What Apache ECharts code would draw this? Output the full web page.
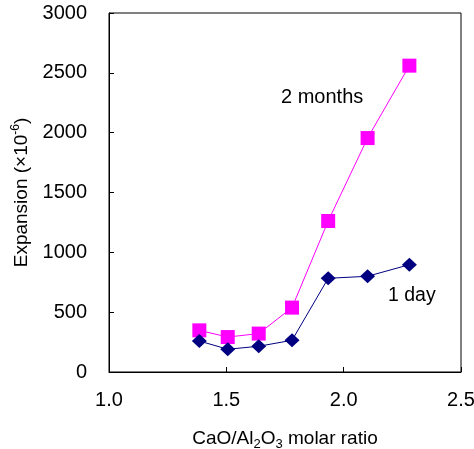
<!DOCTYPE html>
<html>
<head>
<meta charset="utf-8">
<script src="https://cdn.jsdelivr.net/npm/echarts@6/dist/echarts.min.js"></script>
<style>
  html, body { margin: 0; padding: 0; background: #fff; }
  #chart { width: 474px; height: 449px; }
</style>
</head>
<body>
<div id="chart"></div>
<script>
// CaO/Al2O3 摩尔比
var ratio = [1.385, 1.506, 1.638, 1.780, 1.934, 2.102, 2.280];
// 膨胀 (×10^-6)
var twoMonths = [348, 292, 321, 538, 1262, 1955, 2560];
var oneDay = [259, 190, 215, 265, 783, 800, 897];
var xTicks = [1.0, 1.5, 2.0, 2.5];
var yTicks = [0, 500, 1000, 1500, 2000, 2500, 3000];

var font = 'Liberation Sans, Arial, sans-serif';

function pairs(xs, ys) {
    var out = [];
    for (let i = 0; i < xs.length; i++) {
        out.push([xs[i], ys[i]]);
    }
    return out;
}

var myChart = echarts.init(document.getElementById('chart'));
var options = {
    animation: false,
    backgroundColor: '#fff',
    grid: {
        left: 109,
        right: 13,
        top: 13,
        bottom: 77,
        outerBoundsMode: 'none',   // 不让名称挤压绘图区
        containLabel: false,
        show: true,
        borderColor: '#000',
        borderWidth: 1
    },
    xAxis: {
        type: 'value',
        min: xTicks[0],
        max: xTicks[xTicks.length - 1],
        interval: 0.5,
        splitLine: {show: false},
        axisLine: {lineStyle: {color: '#000', width: 1}},
        axisTick: {inside: true, length: 5, lineStyle: {color: '#000'}},
        axisLabel: {
            margin: 18,
            color: '#000',
            fontSize: 20,
            fontFamily: font,
            formatter: function (v) { return v.toFixed(1); }
        },
        name: '{n|CaO/Al}{s|2}{n|O}{s|3}{n| molar ratio}',
        nameLocation: 'middle',
        nameGap: 55,
        nameTextStyle: {
            fontSize: 19,
            fontFamily: font,
            color: '#000',
            rich: {
                n: {fontSize: 19, fontFamily: font, color: '#000', lineHeight: 24},
                s: {fontSize: 13, fontFamily: font, color: '#000', lineHeight: 14, verticalAlign: 'bottom'}
            }
        }
    },
    yAxis: {
        type: 'value',
        min: yTicks[0],
        max: yTicks[yTicks.length - 1],
        interval: 500,
        splitLine: {show: false},
        axisLine: {lineStyle: {color: '#000', width: 1}},
        axisTick: {inside: true, length: 5, lineStyle: {color: '#000'}},
        axisLabel: {
            margin: 22,
            color: '#000',
            fontSize: 20,
            fontFamily: font,
            formatter: function (v) { return String(v); }
        },
        name: '{n|Expansion (×10}{p|-6}{n|)}',
        nameLocation: 'middle',
        nameRotate: 90,
        nameGap: 71,
        nameTextStyle: {
            fontSize: 19,
            fontFamily: font,
            color: '#000',
            rich: {
                n: {fontSize: 19, fontFamily: font, color: '#000', lineHeight: 24},
                p: {fontSize: 12, fontFamily: font, color: '#000', lineHeight: 10, verticalAlign: 'top'}
            }
        }
    },
    series: [
        {
            name: '2 months',
            type: 'line',
            data: pairs(ratio, twoMonths),
            symbol: 'rect',
            symbolSize: 14,
            itemStyle: {color: '#ff00ff'},
            lineStyle: {color: '#ff00ff', width: 1}
        },
        {
            name: '1 day',
            type: 'line',
            data: pairs(ratio, oneDay),
            symbol: 'diamond',
            symbolSize: [15, 14],
            itemStyle: {color: '#000080'},
            lineStyle: {color: '#000080', width: 1}
        }
    ],
    graphic: [
        {
            type: 'text',
            left: 281,
            top: 87,
            style: {text: '2 months', fontSize: 20, fontFamily: font, fill: '#000'}
        },
        {
            type: 'text',
            left: 388,
            top: 286,
            style: {text: '1 day', fontSize: 19.5, fontFamily: font, fill: '#000'}
        }
    ]
};
myChart.setOption(options);
</script>
</body>
</html>
